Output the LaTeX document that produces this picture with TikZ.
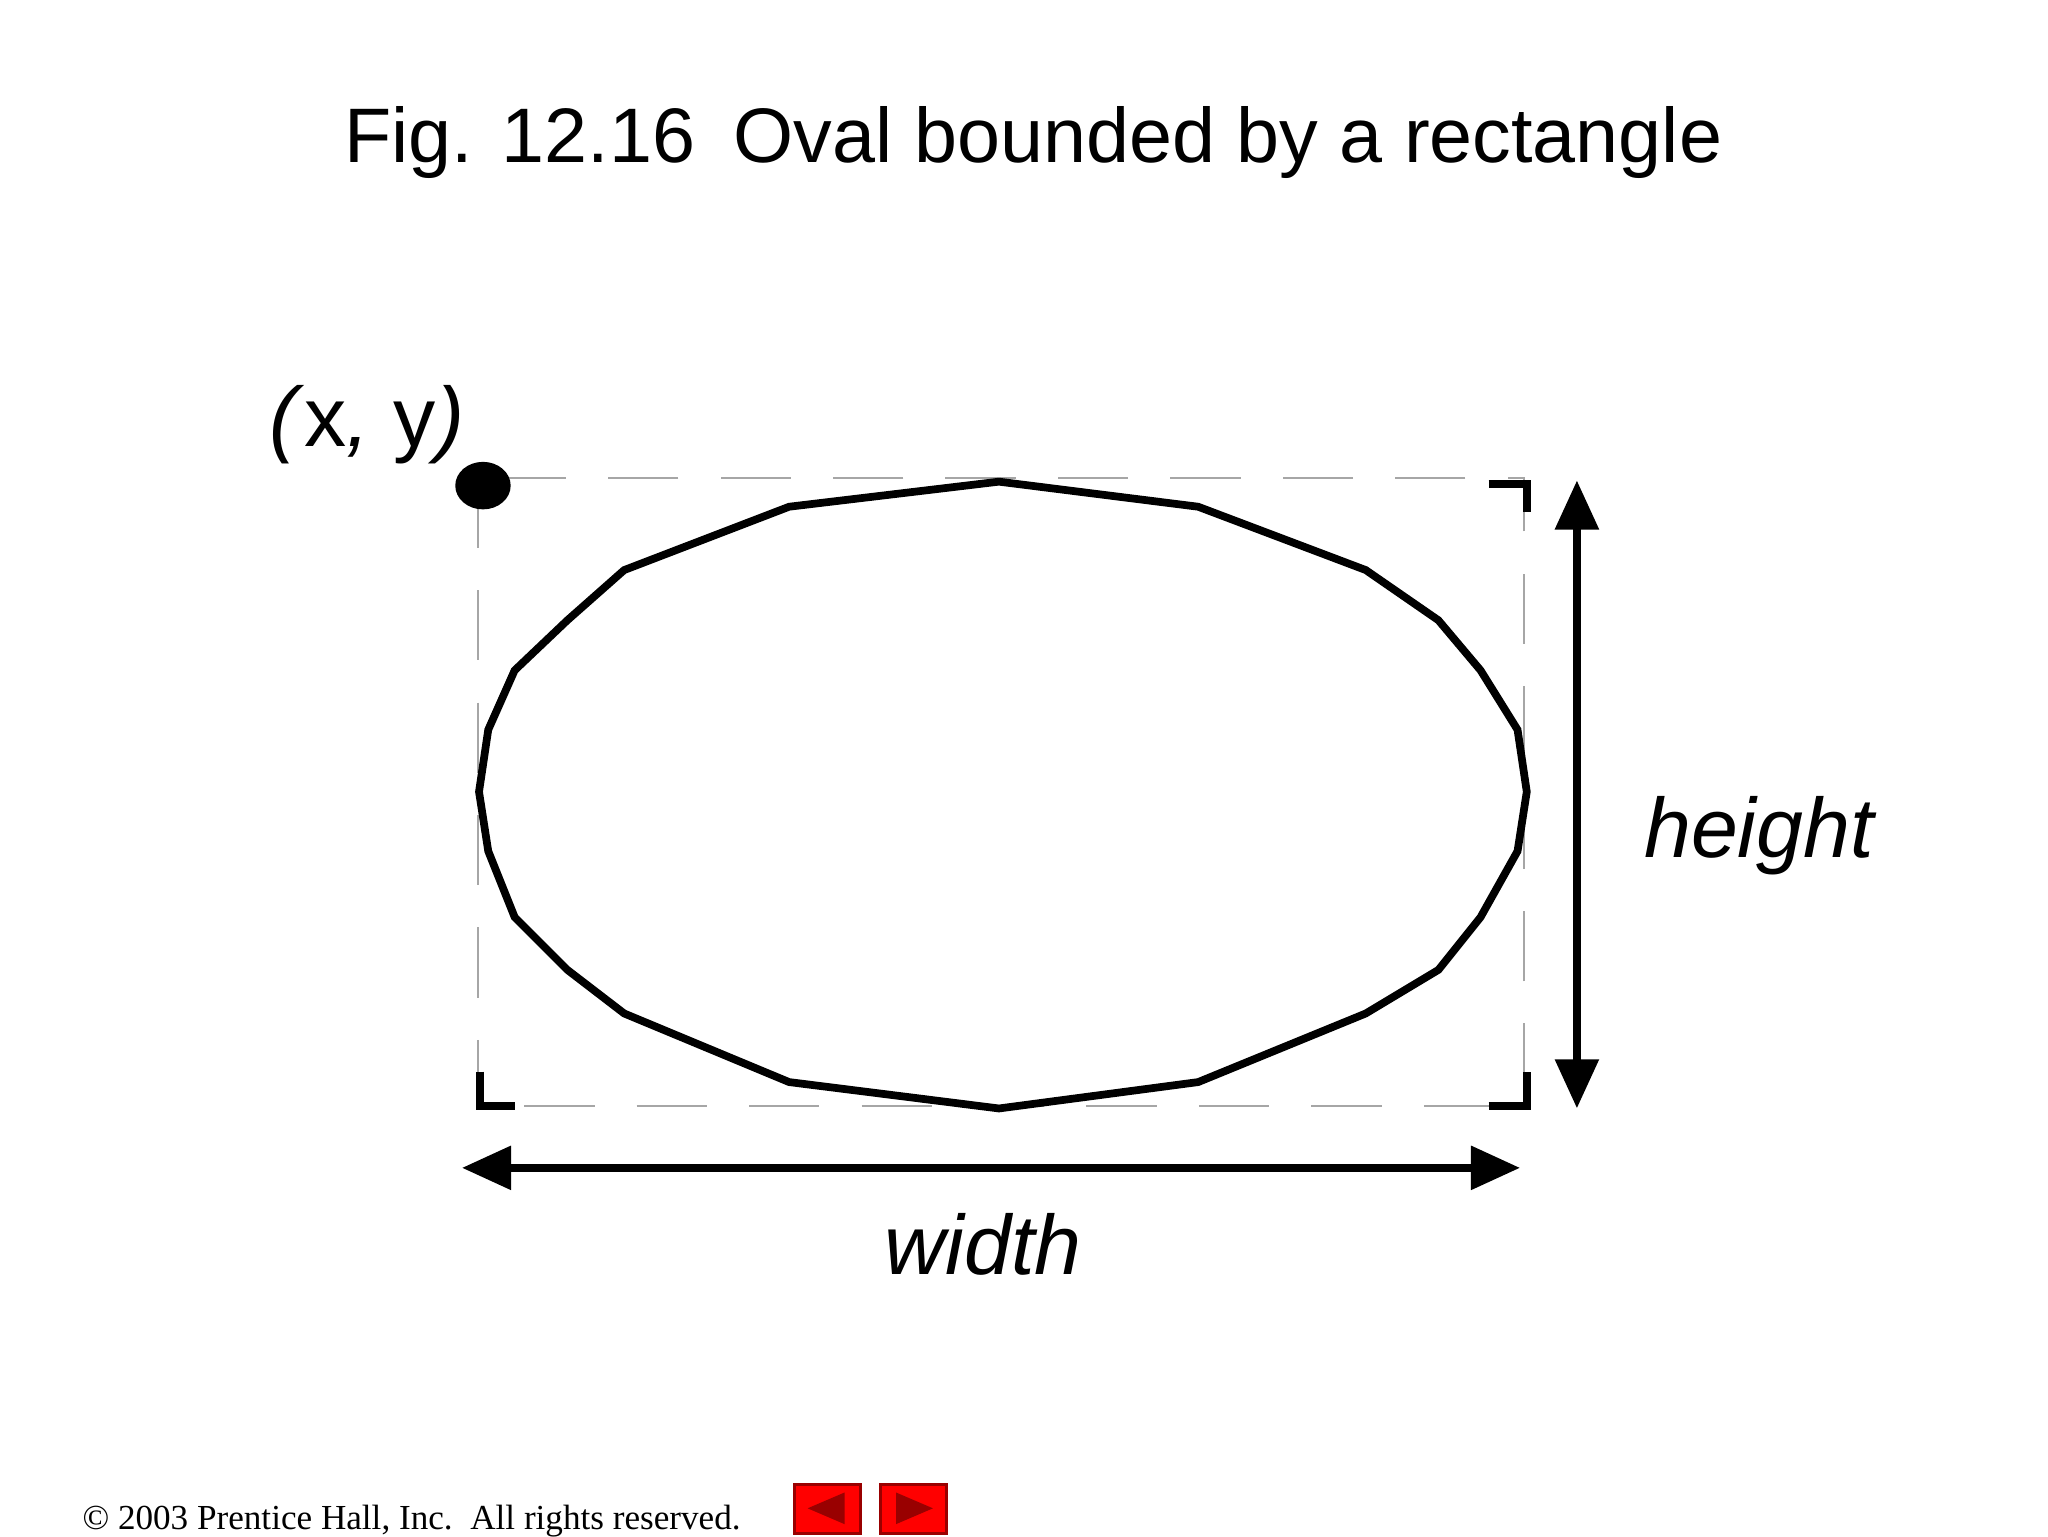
\documentclass[tikz,border=0pt]{standalone}
\usepackage{fontspec}
\setmainfont{Liberation Serif}
\setsansfont{Liberation Sans}
\usetikzlibrary{arrows.meta}
\begin{document}
\begin{tikzpicture}[x=0.013196cm,y=-0.013196cm,
  thickline/.style={line width=2.2pt,line join=miter},
  lbl/.style={font=\sffamily\itshape\fontsize{24}{28}\selectfont,inner sep=0},
  btn/.style={fill=red,draw=red!60!black,line width=0.8pt}]
\useasboundingbox (0,0) rectangle (1552,1164);
\node[font=\sffamily\fontsize{22}{26}\selectfont] (title) at (783,108) {Fig. 12.16\enspace Oval bounded by a rectangle};
\draw[gray!70,dash pattern=on 20pt off 12pt,line width=0.5pt] (362,362) rectangle (1155,838);
\draw[thickline] (757,365)--(908,384)--(1035,432)--(1090,470)--(1122,508)--(1150,553)--(1157,600)--(1150,645)--(1122,695)--(1090,735)--(1035,768)--(908,820)--(757,840)--(598,820)--(473,768)--(430,735)--(390,695)--(370,645)--(363,600)--(370,553)--(390,508)--(430,470)--(473,432)--(598,384)--cycle;
\draw[thickline] (1128,367)--(1157,367)--(1157,388);
\draw[thickline] (364,812)--(364,838)--(390,838);
\draw[thickline] (1128,838)--(1157,838)--(1157,812);
\fill (366,368) ellipse (21 and 18);
\node[lbl,font=\sffamily\fontsize{24}{28}\selectfont] (xy) at (278,322) {\textit{(}x\textit{,} y\textit{)}};
\coordinate (ht) at (1195,364);
\coordinate (hb) at (1195,840);
\draw[line width=2.4pt,{Triangle[length=14pt,width=12pt]}-{Triangle[length=14pt,width=12pt]}] (ht)--(hb);
\node[lbl] (height) at (1333,633) {height};
\coordinate (wl) at (350,885);
\coordinate (wr) at (1152,885);
\draw[line width=2.4pt,{Triangle[length=14pt,width=12pt]}-{Triangle[length=14pt,width=12pt]}] (wl)--(wr);
\node[lbl] (width) at (745,943) {width};
\node[font=\fontsize{10}{12}\selectfont,anchor=west,inner sep=0] (copy) at (62,1153) {\textcopyright{} 2003 Prentice Hall, Inc.\ \ All rights reserved.};
\draw[btn] (602,1125) rectangle (652,1162);
\fill[red!60!black] (612,1143)--(640,1131)--(640,1155)--cycle;
\draw[btn] (667,1125) rectangle (717,1162);
\fill[red!60!black] (707,1143)--(679,1131)--(679,1155)--cycle;
\end{tikzpicture}
\end{document}
